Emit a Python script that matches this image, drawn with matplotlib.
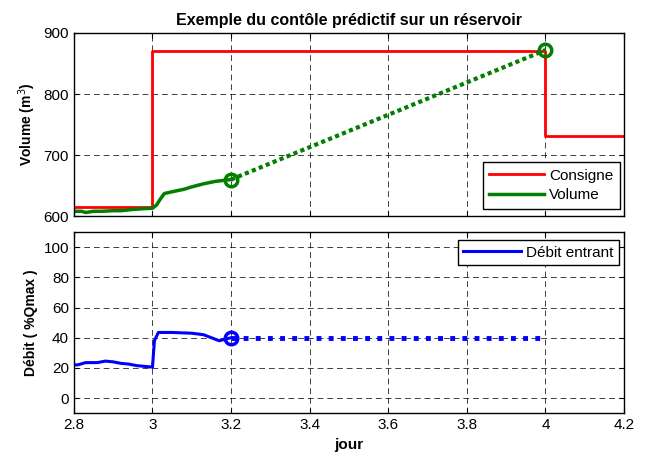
import matplotlib
matplotlib.use("Agg")
import matplotlib.pyplot as plt

plt.rcParams['font.family'] = ['Liberation Sans', 'DejaVu Sans']

# consigne (setpoint), step values
consigne_t = [2.8, 3.0, 3.0, 4.0, 4.0, 4.2]
consigne_v = [615, 615, 870, 870, 731, 731]

# measured volume
volume_t = [2.8, 2.82, 2.83, 2.85, 2.87, 2.9, 2.92, 2.95, 2.97, 3.0, 3.01, 3.02, 3.03, 3.05, 3.08, 3.1, 3.13, 3.16, 3.2]
volume_v = [608, 608, 606, 608, 608, 609, 609, 611, 612, 613, 618, 628, 637, 640, 644, 648, 653, 657, 660]
# predicted volume
vol_pred_t = [3.2, 4.0]
vol_pred_v = [660, 872]

# inflow (% Qmax)
debit_t = [2.8, 2.81, 2.83, 2.86, 2.88, 2.9, 2.92, 2.94, 2.96, 2.98, 3.0, 3.005, 3.015, 3.05, 3.1, 3.13, 3.15, 3.17, 3.2]
debit_v = [22, 22, 23.5, 23.5, 24.5, 24, 23, 22.5, 21.5, 21, 20.5, 38, 43.5, 43.5, 43, 42, 40, 38, 40]
debit_pred_t = [3.2, 4.0]
debit_pred_v = [40, 40]

xticks = [2.8, 3, 3.2, 3.4, 3.6, 3.8, 4, 4.2]
xticklabels = ['2.8', '3', '3.2', '3.4', '3.6', '3.8', '4', '4.2']

fig = plt.figure(figsize=(6.48, 4.58), dpi=100)
ax1 = fig.add_axes([0.114, 0.528, 0.849, 0.40])
ax2 = fig.add_axes([0.114, 0.098, 0.849, 0.395])

green = '#007f00'
ax1.plot(consigne_t, consigne_v, color='#ff0000', lw=2, label='Consigne')
ax1.plot(volume_t, volume_v, color=green, lw=2.5, label='Volume')
ax1.plot(vol_pred_t, vol_pred_v, color=green, lw=3, ls=(0, (1, 0.8)))
ax1.plot(vol_pred_t, vol_pred_v, 'o', color=green, ms=9, mfc='none', mew=2.5)
ax1.set_xlim(2.8, 4.2)
ax1.set_ylim(600, 900)
ax1.set_yticks([600, 700, 800, 900])
ax1.set_xticks(xticks)
ax1.set_xticklabels([])
ax1.set_ylabel('Volume (m$^3$)', fontweight='bold', fontsize=10)
ax1.set_title('Exemple du contôle prédictif sur un réservoir', fontweight='bold', fontsize=11.5)
ax1.legend(loc='lower right', bbox_to_anchor=(0.993, 0.04), fancybox=False, edgecolor='black',
           framealpha=1, fontsize=11, handlelength=3.6, handletextpad=0.3,
           borderpad=0.45, labelspacing=0.35, borderaxespad=0)

ax2.plot(debit_t, debit_v, color='#0000ff', lw=2.2, label='Débit entrant')
ax2.plot(debit_pred_t, debit_pred_v, color='#0000ff', lw=3.5, ls=(0, (1, 1.5)))
ax2.plot(debit_pred_t[:1], debit_pred_v[:1], 'o', color='#0000ff', ms=9, mfc='none', mew=2.5)
ax2.set_xlim(2.8, 4.2)
ax2.set_ylim(-10, 110)
ax2.set_yticks([0, 20, 40, 60, 80, 100])
ax2.set_xticks(xticks)
ax2.set_xticklabels(xticklabels)
ax2.set_ylabel('Débit ( %Qmax )', fontweight='bold', fontsize=10)
ax2.set_xlabel('jour', fontweight='bold', fontsize=11)
ax2.legend(loc='upper right', bbox_to_anchor=(0.99, 0.955), fancybox=False, edgecolor='black',
           framealpha=1, fontsize=11, handlelength=3.8, handletextpad=0.3,
           borderpad=0.35, borderaxespad=0)

for ax in (ax1, ax2):
    ax.grid(True, color='black', ls=(0, (6, 4)), lw=0.7, alpha=0.75)
    ax.tick_params(direction='in', top=True, right=True, labelsize=11)
    for s in ax.spines.values():
        s.set_linewidth(1)

fig.savefig('out.png', dpi=100)
